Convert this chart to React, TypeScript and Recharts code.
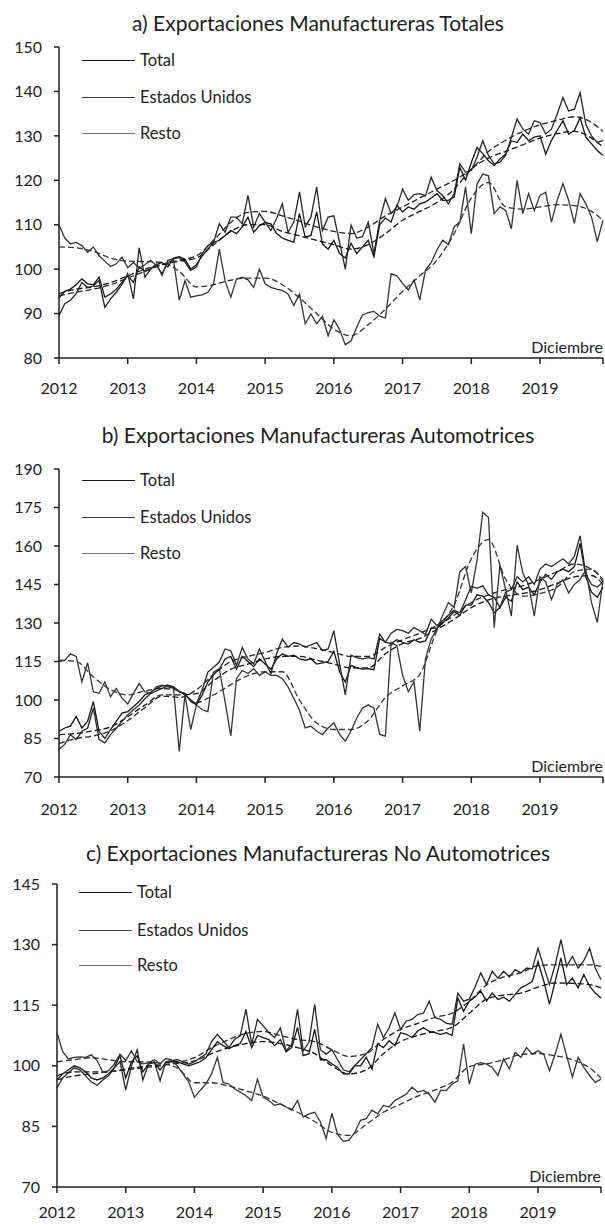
import React from 'react'
import { LineChart, Line, XAxis, YAxis } from 'recharts'

// Exportaciones manufactureras, índices mensuales ene-2012 (mes 0) a dic-2019 (mes 95)

const FONT = 'Lato, "Noto Sans", sans-serif'
const INK = '#1e1e1e'

const yearTicks = [0, 12, 24, 36, 48, 60, 72, 84, 95]
const yearLabels = ['2012', '2013', '2014', '2015', '2016', '2017', '2018', '2019', '']
// meses en los que se leyó la tendencia (línea discontinua)
const trendMonths = [
  0, 3, 6, 9, 12, 15, 18, 21, 24, 27, 30, 33, 36, 39, 42, 45, 48, 51, 54, 57, 60, 63, 66, 69, 72, 75,
  78, 81, 84, 87, 90, 93, 95,
]

const seriesLabels = ['Total', 'Estados Unidos', 'Resto']
const seriesColors = ['#141414', '#262626', '#333333']
const legendColors = ['#1a1a1a', '#3a3a3a', '#707070']

// a) Totales
const aTotal = [
  93.5, 95, 95.5, 96.5, 97.8, 96.7, 96.5, 98.2, 93.7, 94.4, 95.5, 97,
  98.5, 97, 100.5, 99.5, 100, 101, 101.5, 100.5, 102.5, 102.8, 102.2, 100,
  101, 103, 104.5, 106, 106.5, 107.5, 108.7, 108, 109.5, 111.7, 108.3, 109.8,
  110.5, 110.2, 108, 107, 106.5, 106.1, 112.5, 107.2, 107.6, 112.9, 105.7, 104.5,
  106.5, 103.5, 102.5, 105.8, 103.5, 105, 106.5, 102.8, 110, 111.5, 110.6, 114.4,
  112.9, 114, 113.5, 114.7, 115.1, 116, 117, 115.5, 115.5, 116.2, 122.9, 120,
  124, 127.4, 126, 124.4, 123.3, 124.8, 125.9, 128.9, 128.5, 130.4, 128.9, 129.7,
  130, 125.9, 129, 131.2, 133.4, 130.4, 131.2, 134.1, 129.7, 128.2, 126.7, 125.6,
]
const aUS = [
  89.5, 92.2, 93, 94.5, 97, 95.9, 96.2, 97.5, 91.4, 93.3, 94.8, 96.5,
  99, 93.3, 104.8, 98.2, 100, 101.2, 98.6, 102, 102.3, 102.6, 101.6, 99.7,
  100.5, 103.5, 105.3, 106.1, 110.2, 108.3, 111.7, 111.7, 110.2, 116.6, 109.5, 112.5,
  110.6, 108.7, 111.4, 114.7, 108.3, 110.6, 117.4, 109.5, 111.7, 118.5, 108.7, 111.7,
  112, 106, 100, 109.9, 107, 107.3, 110.6, 103.5, 111, 115.9, 112.5, 114,
  118, 115.5, 116.8, 117, 116.5, 120.7, 117.7, 116.6, 114.7, 117, 123.7, 121.8,
  122.2, 125.2, 128.9, 125.6, 123.7, 124.1, 125.6, 129.7, 133.8, 131.5, 130.4, 133.4,
  133, 130.4, 131.5, 134.9, 138.6, 135.6, 136, 139.7, 132.6, 130, 128.5, 129,
]
const aResto = [
  110, 107, 105.7, 106, 105.3, 103.8, 105, 103, 101.8, 100.6, 101.2, 102.7,
  100.3, 101.5, 100.2, 101, 102, 100.8, 99, 101.5, 102, 93, 97.4, 93.7,
  94, 94.2, 94.8, 96.7, 104.5, 97.4, 93.7, 97.8, 98.2, 97.6, 95.9, 100,
  96.7, 95.9, 95.5, 95.2, 94.4, 91.8, 94.4, 87.7, 89.9, 87.7, 89.4, 85,
  88.6, 86.4, 83, 83.8, 87, 89.7, 90.2, 90.5, 89.4, 89, 99, 98.5,
  96.8, 95.3, 97.6, 93.1, 99.8, 101.5, 104.3, 106.5, 105.5, 109.5, 110.6, 118.5,
  108, 119.2, 121.4, 121, 112.5, 114, 113.2, 109.1, 120, 112.5, 117, 113.2,
  116.6, 117.3, 110.6, 115.5, 119.2, 115.5, 110.3, 117, 114.7, 111.7, 106.2, 111,
]
const aTotalTrend = [
  94.5, 95.5, 96, 97, 98.5, 100, 101, 101.8, 102.5, 105.5, 108.5, 110, 110, 108.5, 107.5, 106.5, 105.5,
  104.5, 105.5, 108, 111, 113, 115, 118, 122.5, 125, 126.5, 128, 129.5, 130.5, 131, 129.5, 127.5,
]
const aUSTrend = [
  94, 94.8, 95.5, 96.5, 98, 99.5, 101, 102, 103, 106.5, 110.5, 112.8, 113, 112, 110.8, 109.5, 108.5,
  108, 109.5, 112, 114, 116, 118, 120, 122.5, 126.5, 129, 131, 132.5, 133.5, 134.3, 133, 131,
]
const aRestoTrend = [
  105, 104.8, 104, 102.5, 101.8, 101.7, 101.5, 99.5, 96, 96.5, 97.5, 98, 98, 96.5, 93.5, 90, 86.5, 85,
  87.5, 91, 95, 98.5, 102, 108, 116, 119.5, 114, 113.5, 114, 114.5, 114.3, 113, 111,
]

// b) Automotrices
const bTotal = [
  87.8, 89.1, 89.8, 93.6, 89.1, 91.7, 99.4, 87.8, 85, 88.5, 91.7, 94.9,
  95.5, 97.4, 99.4, 102, 103, 104.5, 105.5, 105.8, 105.1, 103.2, 102.6, 99.4,
  98.1, 102, 107, 110, 112, 116, 117, 112, 117, 115, 113, 116,
  114, 112, 116, 118, 117, 117.5, 116, 115.5, 116, 114, 114.5, 115,
  119, 111, 107, 113.5, 112.5, 112, 112.2, 111.8, 124, 122.5, 122, 123.5,
  122.5, 121.8, 123.5, 122.5, 123, 128, 128, 130, 132, 134.5, 133, 137,
  137, 141, 140.5, 138, 134, 136, 140, 138.5, 146, 143, 144, 141,
  146, 149, 147, 150, 151, 150, 152, 161, 148, 142, 140, 144,
]
const bUS = [
  80.8, 82.7, 86.5, 84.6, 87.8, 89.1, 96.8, 84.6, 83.3, 86.5, 89, 91.7,
  94.2, 96.2, 98, 100.5, 102.5, 103.5, 104.5, 105.5, 104.8, 103.5, 102, 100,
  98.5, 104, 110.9, 112.8, 114.8, 119.9, 119.2, 113.5, 120.5, 116, 114.1, 119.9,
  115, 110.3, 118, 123.7, 120.5, 122.4, 121.8, 120.5, 121.5, 122.4, 119.2, 119.9,
  127, 114, 102, 117.5, 116.5, 116, 116.5, 116, 125.7, 122.5, 126, 127.5,
  127, 126, 128.2, 127, 125.5, 131.5, 129, 131, 133, 135, 134, 139,
  144.3, 143.5, 144.5, 141, 140, 136, 142, 143, 148, 146, 148, 145,
  151, 153, 152, 153.5, 155, 153, 156, 164, 149, 145, 144, 146,
]
const bResto = [
  115, 115.4, 118, 117, 107, 114.5, 103.2, 102.6, 107, 101.3, 104.5, 100.7,
  98.5, 102.6, 106.4, 103.2, 102.6, 105.1, 105.8, 105.1, 104.5, 80, 102, 88.5,
  98.1, 96.2, 95.5, 110.9, 112.2, 99.4, 86, 108.3, 111.5, 110.3, 112.2, 109.6,
  110.9, 109.6, 109.6, 108.3, 105.1, 100.7, 96, 89.1, 89.8, 87.8, 86.5, 89.1,
  91.1, 86.6, 84, 87.9, 93, 96.8, 98.1, 96.8, 86.6, 85.9, 122.5, 121.2,
  109.7, 103.2, 107.1, 87.9, 116.1, 123.8, 127.6, 133, 138, 136, 150, 152,
  141.7, 154.5, 173.1, 171.2, 128.2, 152.6, 143, 132.7, 160.3, 149.4, 145, 132.7,
  148.1, 146, 139.1, 145, 146.8, 141.7, 145, 147, 150.7, 137.9, 130.2, 146.8,
]
const bTotalTrend = [
  86.5, 87, 88, 89.5, 93.5, 98, 102, 102, 102.5, 107.5, 112, 114, 116, 117, 117, 115.5, 114, 112.5,
  112.5, 118, 122, 124, 127.5, 131.5, 136, 139, 140.5, 141.5, 143, 145.5, 148, 148.5, 145,
]
const bUSTrend = [
  83, 85, 86, 88, 92, 97, 101.5, 101, 104, 110, 115, 117, 118.5, 120.5, 121, 120, 118.5, 117, 117,
  120.5, 123.5, 126, 129, 133, 138, 141, 143, 144.5, 147, 150, 153, 151, 147,
]
const bRestoTrend = [
  115.5, 115, 109, 104, 102, 103.5, 104.5, 103.5, 99, 102, 106, 109.5, 111, 111, 100, 91, 88.5, 88.5,
  92, 101, 105.5, 110, 127, 137, 155, 162.5, 147, 140.5, 141.5, 144, 150, 151, 146,
]

// c) No Automotrices
const cTotal = [
  96.5, 98, 99, 100, 99.5, 98.5, 97, 96.5, 97, 98, 99.5, 102.5,
  97, 101, 102.5, 98.5, 100.5, 100.8, 99, 100.8, 101, 101, 100.5, 100,
  100.5, 101, 102, 104, 106, 105, 104.2, 105, 105.5, 108.5, 104.5, 107.5,
  107, 106.5, 105, 106.5, 103.5, 104.5, 109.5, 102.5, 103, 109, 101.5, 101.5,
  100.5, 99.6, 98, 98, 100, 100, 102.1, 99.2, 105.4, 104.5, 106.2, 105,
  108.2, 107.8, 107, 108.6, 109.4, 108.5, 108.2, 107.8, 108.2, 107.5, 116.8, 113.5,
  116, 117, 118.5, 116, 118, 116.4, 117, 116, 117.6, 119.3, 120, 120.9,
  125.8, 121, 115.2, 120.9, 126.7, 120.1, 121.7, 119.3, 122.6, 119.7, 118, 116.8,
]
const cUS = [
  94.5, 97, 98.3, 99.5, 99, 97.5, 96, 95.2, 96.5, 97.5, 99.5, 101,
  94, 100, 104, 96.5, 100.5, 101, 96.3, 101, 101.3, 101.5, 101, 100.4,
  101, 102, 102.9, 106, 107.8, 106.2, 104.5, 106.5, 107.4, 114, 105.3, 111.5,
  109.9, 108.2, 107, 109.4, 103.7, 105.3, 114, 103.7, 105.8, 115.2, 104, 102.9,
  104, 101.5, 99, 98.5, 100, 101.5, 103, 104.5, 110.3, 107, 109.4, 113.1,
  109, 111.1, 111.5, 112.7, 113, 116, 111.9, 111.5, 110.5, 110.3, 118, 116,
  116.5, 119.5, 123, 120.1, 123.4, 121.7, 123.4, 122, 123.8, 123, 124.2, 124,
  129.1, 124.6, 120.1, 125, 131.2, 124.6, 127.1, 124.2, 126, 129.1, 124.2, 121.3,
]
const cResto = [
  108.2, 103.5, 101.7, 102.1, 102.2, 102.1, 102.7, 101.3, 98.4, 98.8, 100.4, 102.9,
  101.3, 103.7, 101, 100.5, 100.8, 101.5, 100.5, 101.8, 101.5, 100, 98, 96,
  92.2, 93.9, 95.5, 98, 102.1, 95.9, 95.5, 94.3, 93.5, 92.6, 91.4, 96.7,
  92.2, 91.4, 90.2, 90.6, 89.8, 89, 91.4, 87.3, 88.1, 88.5, 86.1, 82,
  88.3, 83, 81.3, 81.6, 83.5, 86.5, 86.9, 89, 88.1, 90.2, 89.8, 91.4,
  92.2, 93, 94.7, 93.5, 93.9, 93, 91, 93.9, 93.9, 95.5, 96.3, 105.4,
  95.5, 100.4, 100.8, 100.4, 99.6, 97.6, 101.7, 99.2, 103.3, 102.1, 104.5, 102.9,
  103.7, 102.9, 98.8, 102.9, 107.8, 102.5, 97.2, 102.1, 99.6, 97.6, 95.9, 96.7,
]
const cTotalTrend = [
  97.5, 98.5, 98.5, 98.5, 99.2, 99.8, 100.2, 100.6, 101.2, 103, 104.5, 105.5, 106, 105.5, 104.5, 103,
  100, 98, 99, 103, 106, 107.5, 108.5, 109.5, 113, 116.5, 117.5, 118, 119.5, 120.5, 120.4, 120.1, 119.3,
]
const cUSTrend = [
  96.5, 97.5, 98, 98.5, 99, 99.5, 100, 100.8, 102, 104.5, 106.5, 108, 108.5, 107.5, 106.5, 106, 104,
  102.3, 103, 106.5, 109, 110.5, 112, 113, 116, 120, 122, 123, 124.8, 125, 125, 125, 124.6,
]
const cRestoTrend = [
  101, 101.5, 102, 101.5, 101, 101, 100.6, 99.5, 95.8, 95.8, 95, 93.8, 92.5, 90.5, 88.5, 86.2, 83.5,
  82.8, 85.5, 88.5, 90.5, 92.5, 94, 96, 99.8, 100.5, 101.5, 102.8, 103, 102.5, 101.5, 99.5, 97,
]

type Row = {
  m: number
  total: number
  us: number
  resto: number
  totalT: number | null
  usT: number | null
  restoT: number | null
}

function buildRows(
  total: number[],
  us: number[],
  resto: number[],
  totalT: number[],
  usT: number[],
  restoT: number[]
): Row[] {
  const rows: Row[] = total.map((v, m) => ({
    m,
    total: v,
    us: us[m],
    resto: resto[m],
    totalT: null,
    usT: null,
    restoT: null,
  }))
  trendMonths.forEach((m, i) => {
    rows[m].totalT = totalT[i]
    rows[m].usT = usT[i]
    rows[m].restoT = restoT[i]
  })
  return rows
}

const rowsA = buildRows(aTotal, aUS, aResto, aTotalTrend, aUSTrend, aRestoTrend)
const rowsB = buildRows(bTotal, bUS, bResto, bTotalTrend, bUSTrend, bRestoTrend)
const rowsC = buildRows(cTotal, cUS, cResto, cTotalTrend, cUSTrend, cRestoTrend)

interface PanelProps {
  title: string
  titleY: number
  rows: Row[]
  yDomain: [number, number]
  yTicks: number[]
  plotTop: number
  plotBottom: number
  left: number
  right: number
  legendX: number
  legendY: number[]
  xLabelGap: number
  axisH: number
}

function Panel(p: PanelProps) {
  const padTop = 12
  const yW = 50
  const chartTop = p.plotTop - padTop
  const height = p.plotBottom - chartTop + p.axisH
  const tickStyle = { fill: INK, fontSize: 16, fontFamily: FONT }

  return (
    <>
      <div
        style={{
          position: 'absolute',
          left: 0,
          top: p.titleY - 14,
          width: 636,
          height: 28,
          lineHeight: '28px',
          textAlign: 'center',
          fontSize: 21,
          color: INK,
          fontFamily: FONT,
          whiteSpace: 'nowrap',
        }}
      >
        {p.title}
      </div>
      <div style={{ position: 'absolute', left: 0, top: chartTop }}>
        <LineChart
          width={605}
          height={height}
          data={p.rows}
          margin={{ top: padTop, right: 605 - p.right, bottom: 0, left: p.left - yW }}
        >
          <XAxis
            type="number"
            dataKey="m"
            domain={[0, 95]}
            ticks={yearTicks}
            interval={0}
            height={p.axisH}
            tickFormatter={(v: number) => yearLabels[yearTicks.indexOf(v)]}
            tickSize={6}
            tickMargin={p.xLabelGap}
            stroke={INK}
            strokeWidth={1.5}
            tick={tickStyle}
          />
          <YAxis
            type="number"
            domain={p.yDomain}
            ticks={p.yTicks}
            interval={0}
            width={yW}
            tickSize={5}
            tickMargin={12}
            stroke={INK}
            strokeWidth={1.5}
            tick={tickStyle}
            allowDataOverflow
          />
          {(['totalT', 'usT', 'restoT'] as const).map((k, i) => (
            <Line
              key={k}
              dataKey={k}
              type="monotone"
              connectNulls
              stroke={seriesColors[i]}
              strokeWidth={1.3}
              strokeDasharray="6 3"
              dot={false}
              isAnimationActive={false}
            />
          ))}
          {(['total', 'us', 'resto'] as const).map((k, i) => (
            <Line
              key={k}
              dataKey={k}
              type="linear"
              stroke={seriesColors[i]}
              strokeWidth={1.3}
              dot={false}
              isAnimationActive={false}
            />
          ))}
        </LineChart>
      </div>
      {seriesLabels.map((label, i) => (
        <React.Fragment key={label}>
          <div
            style={{
              position: 'absolute',
              left: p.legendX,
              top: p.legendY[i],
              width: 53,
              borderTop: `1.5px solid ${legendColors[i]}`,
            }}
          />
          <div
            style={{
              position: 'absolute',
              left: p.legendX + 58,
              top: p.legendY[i] - 11,
              lineHeight: '22px',
              fontSize: 16.5,
              color: INK,
              fontFamily: FONT,
              whiteSpace: 'nowrap',
            }}
          >
            {label}
          </div>
        </React.Fragment>
      ))}
      <div
        style={{
          position: 'absolute',
          right: 605 - p.right,
          top: p.plotBottom - 21,
          lineHeight: '20px',
          fontSize: 16,
          color: INK,
          fontFamily: FONT,
        }}
      >
        Diciembre
      </div>
    </>
  )
}

export default function App() {
  return (
    <div
      style={{
        position: 'absolute',
        left: 0,
        top: 0,
        width: 605,
        height: 1225,
        background: '#ffffff',
        overflow: 'hidden',
      }}
    >
      <Panel
        title="a) Exportaciones Manufactureras Totales"
        titleY={23}
        rows={rowsA}
        yDomain={[80, 150]}
        yTicks={[80, 90, 100, 110, 120, 130, 140, 150]}
        plotTop={47}
        plotBottom={358}
        left={59}
        right={603}
        legendX={82}
        legendY={[60, 97, 133]}
        xLabelGap={19}
        axisH={46}
      />
      <Panel
        title="b) Exportaciones Manufactureras Automotrices"
        titleY={435}
        rows={rowsB}
        yDomain={[70, 190]}
        yTicks={[70, 85, 100, 115, 130, 145, 160, 175, 190]}
        plotTop={469}
        plotBottom={777}
        left={59}
        right={603}
        legendX={82}
        legendY={[480, 517, 553]}
        xLabelGap={21}
        axisH={48}
      />
      <Panel
        title="c) Exportaciones Manufactureras No Automotrices"
        titleY={853}
        rows={rowsC}
        yDomain={[70, 145]}
        yTicks={[70, 85, 100, 115, 130, 145]}
        plotTop={884}
        plotBottom={1187}
        left={57}
        right={601}
        legendX={79}
        legendY={[892, 930, 965]}
        xLabelGap={14}
        axisH={38}
      />
    </div>
  )
}
